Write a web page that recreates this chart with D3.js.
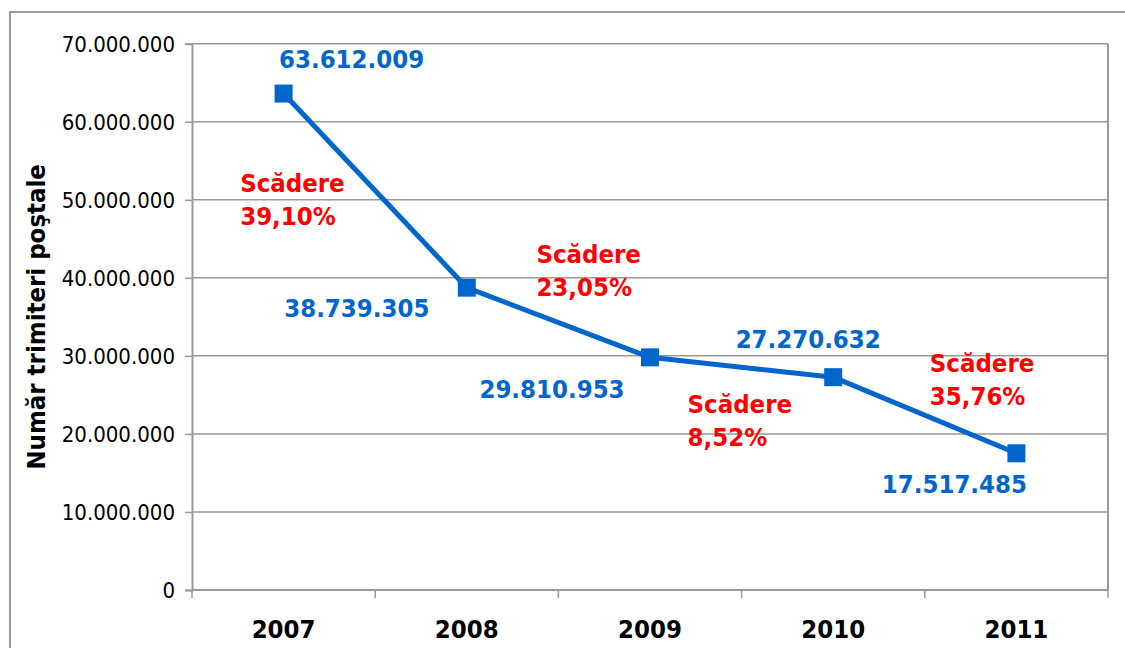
<!DOCTYPE html>
<html>
<head>
<meta charset="utf-8">
<script src="https://cdn.jsdelivr.net/npm/d3@7"></script>
<style>
  html, body { margin: 0; padding: 0; background: #fff; }
  svg { display: block; }
  text { font-family: "DejaVu Sans Condensed", "DejaVu Sans", sans-serif; font-stretch: condensed; }
</style>
</head>
<body>
<svg id="chart" width="1125" height="648"></svg>
<script>
// Postal items per year
const years = ["2007", "2008", "2009", "2010", "2011"];
const items = [63612009, 38739305, 29810953, 27270632, 17517485];
const valueLabels = ["63.612.009", "38.739.305", "29.810.953", "27.270.632", "17.517.485"];
// Year-over-year decrease labels (one per segment)
const dropWord = "Scădere";
const dropLabels = ["39,10%", "23,05%", "8,52%", "35,76%"];
const yTicks = [0, 10000000, 20000000, 30000000, 40000000, 50000000, 60000000, 70000000];
const yTitle = "Număr trimiteri poştale";

// Label placement relative to the point / segment midpoint
const valueOffsets = [[68, -26], [-110, 29], [-98, 41], [-25, -29], [-62, 40]];
const dropOffsets = [[-135, 1], [-22, -60], [-54, 46], [5, -43]];

const svg = d3.select("#chart");
const plot = { left: 192, right: 1108, top: 43.7, bottom: 590 };
const grey = "#999999";
const blue = "#0066CC";
const red = "#FF0000";
const boldSize = 25.5;

const xBand = d3.scaleBand().domain(years).range([plot.left, plot.right]).padding(0);
const xc = d => xBand(d) + xBand.bandwidth() / 2;
const y = d3.scaleLinear().domain([0, 70000000]).range([plot.bottom, plot.top]);
const fmt = v => d3.format(",")(v).replace(/,/g, ".");

// Outer chart frame
svg.append("rect")
  .attr("x", 10).attr("y", 12).attr("width", 1200).attr("height", 700)
  .attr("fill", "none").attr("stroke", grey).attr("stroke-width", 2);

// Horizontal gridlines
svg.append("g").selectAll("line").data(yTicks.filter(t => t > 0)).join("line")
  .attr("x1", plot.left).attr("x2", plot.right)
  .attr("y1", d => y(d)).attr("y2", d => y(d))
  .attr("stroke", grey).attr("stroke-width", 1.5);

// Right edge of plot area
svg.append("line")
  .attr("x1", plot.right).attr("x2", plot.right)
  .attr("y1", plot.top).attr("y2", plot.bottom)
  .attr("stroke", grey).attr("stroke-width", 2);

// Y axis
const yAxis = svg.append("g")
  .attr("transform", `translate(${plot.left},0)`)
  .call(d3.axisLeft(y).tickValues(yTicks).tickFormat(fmt).tickSize(7).tickPadding(10));
yAxis.select(".domain").attr("stroke", grey).attr("stroke-width", 2);
yAxis.selectAll(".tick line").attr("stroke", grey).attr("stroke-width", 1.5);
yAxis.selectAll(".tick text")
  .attr("font-size", 22).attr("fill", "#000").attr("dy", "0.36em")
  .style("font-family", "\"DejaVu Sans Condensed\", \"DejaVu Sans\", sans-serif");

// X axis with ticks at category boundaries
const xAxisG = svg.append("g").attr("transform", `translate(0,${plot.bottom})`);
xAxisG.append("line")
  .attr("x1", plot.left).attr("x2", plot.right).attr("y1", 0).attr("y2", 0)
  .attr("stroke", grey).attr("stroke-width", 2);
const boundaries = years.map(d => xBand(d)).concat([plot.right]);
xAxisG.selectAll("line.tk").data(boundaries).join("line").attr("class", "tk")
  .attr("x1", d => d).attr("x2", d => d).attr("y1", 0).attr("y2", 8)
  .attr("stroke", grey).attr("stroke-width", 1.5);
xAxisG.selectAll("text").data(years).join("text")
  .attr("x", d => xc(d)).attr("y", 48)
  .attr("text-anchor", "middle").attr("font-size", boldSize).attr("font-weight", "bold")
  .attr("fill", "#000").text(d => d);

// Y axis title
svg.append("text")
  .attr("transform", `translate(45,${(plot.top + plot.bottom) / 2}) rotate(-90)`)
  .attr("text-anchor", "middle").attr("font-size", 25.5).attr("font-weight", "bold")
  .attr("fill", "#000").text(yTitle);

// Series line
const pts = years.map((d, i) => [xc(d), y(items[i])]);
svg.append("path")
  .attr("d", d3.line()(pts))
  .attr("fill", "none").attr("stroke", blue).attr("stroke-width", 5)
  .attr("stroke-linejoin", "round");

// Square markers
const ms = 18;
svg.append("g").selectAll("rect").data(pts).join("rect")
  .attr("x", d => d[0] - ms / 2).attr("y", d => d[1] - ms / 2)
  .attr("width", ms).attr("height", ms).attr("fill", blue);

// Value labels
svg.append("g").selectAll("text").data(pts).join("text")
  .attr("x", (d, i) => d[0] + valueOffsets[i][0])
  .attr("y", (d, i) => d[1] + valueOffsets[i][1])
  .attr("text-anchor", "middle").attr("font-size", boldSize).attr("font-weight", "bold")
  .attr("fill", blue).text((d, i) => valueLabels[i]);

// Decrease labels for each segment
const mids = dropLabels.map((t, i) => [(pts[i][0] + pts[i + 1][0]) / 2, (pts[i][1] + pts[i + 1][1]) / 2]);
const dg = svg.append("g").selectAll("text").data(mids).join("text")
  .attr("x", (d, i) => d[0] + dropOffsets[i][0])
  .attr("y", (d, i) => d[1] + dropOffsets[i][1])
  .attr("font-size", boldSize).attr("font-weight", "bold").attr("fill", red);
dg.append("tspan").text(dropWord);
dg.append("tspan")
  .attr("x", (d, i) => d[0] + dropOffsets[i][0]).attr("dy", 33)
  .text((d, i) => dropLabels[i]);
</script>
</body>
</html>
